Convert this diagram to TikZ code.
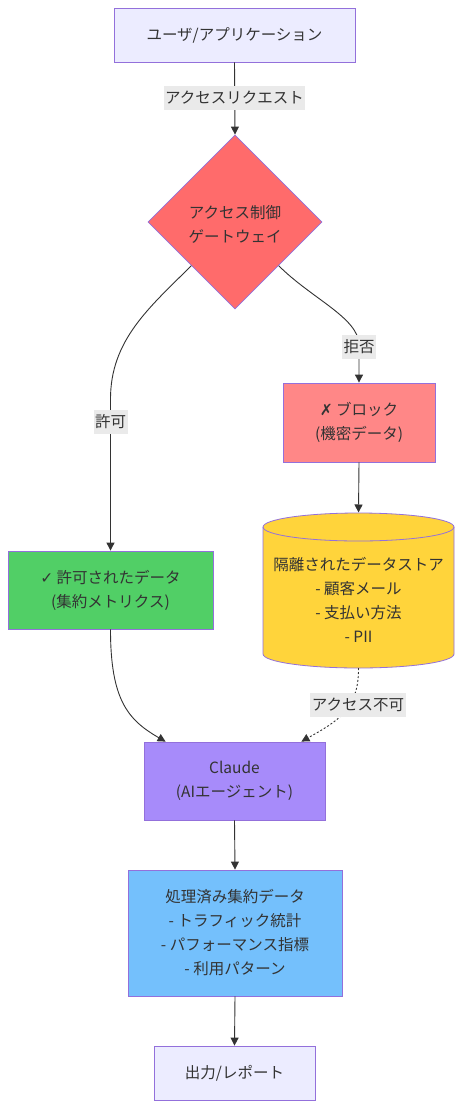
\documentclass[tikz,border=0pt]{standalone}
\usepackage{fontspec}
\setmainfont{Noto Sans CJK JP}
\newfontfamily\symfont{DejaVu Sans}
\usetikzlibrary{shapes.geometric,arrows.meta}
\definecolor{txt}{HTML}{333333}
\definecolor{bord}{HTML}{9370DB}
\definecolor{lav}{HTML}{ECECFF}
\definecolor{gatec}{HTML}{FF6B6B}
\definecolor{blockc}{HTML}{FF8787}
\definecolor{storec}{HTML}{FFD43B}
\definecolor{okc}{HTML}{51CF66}
\definecolor{claudec}{HTML}{A78BFA}
\definecolor{procc}{HTML}{74C0FC}
\definecolor{lblbg}{HTML}{EAEAEA}
\tikzset{
  every node/.style={text=txt, font=\fontsize{15.5}{24}\selectfont},
  box/.style={draw=bord, line width=0.8pt, rectangle, align=center, inner sep=0pt},
  lbl/.style={fill=lblbg, inner sep=1.5pt, minimum height=24pt},
  arr/.style={draw=txt, line width=0.9pt, -{Triangle[length=8pt,width=8pt]}},
}
\begin{document}
\begin{tikzpicture}[x=1pt,y=-1pt]
\fill[white] (0,0) rectangle (462,1108);
\useasboundingbox (0,0) rectangle (462,1108);

\node[box, fill=lav, minimum width=241pt, minimum height=54pt] (user) at (234.5,35) {ユーザ/アプリケーション};
\node[diamond, draw=bord, line width=0.8pt, fill=gatec, minimum size=174pt, inner sep=0pt, aspect=1, align=center] (gate) at (235,222) {};
\node[align=center] (gatetxt) at (235,224) {アクセス制御\\ゲートウェイ};
\node[box, fill=blockc, minimum width=152pt, minimum height=79pt] (block) at (359,422.5) {{\symfont ✗} ブロック\\(機密データ)};
\node[box, fill=okc, minimum width=205pt, minimum height=78pt] (allowed) at (110.5,590) {{\symfont ✓} 許可されたデータ\\(集約メトリクス)};

% cylinder
\coordinate (storetop) at (358.5,512.5);
\coordinate (storebot) at (358.5,668);
\filldraw[draw=bord, line width=0.8pt, fill=storec] (263,527) -- (263,654) arc[start angle=180, end angle=360, x radius=95.5pt, y radius=14pt] -- (454,527) arc[start angle=0, end angle=180, x radius=95.5pt, y radius=14pt] -- cycle;
\draw[draw=bord, line width=0.8pt] (263,527) arc[start angle=180, end angle=360, x radius=95.5pt, y radius=14pt];
\node[align=center] (store) at (358.5,600) {隔離されたデータストア\\- 顧客メール\\- 支払い方法\\- PII};

\node[box, fill=claudec, minimum width=181pt, minimum height=78pt] (claude) at (234.5,781) {Claude\\(AIエージェント)};
\node[box, fill=procc, minimum width=214pt, minimum height=126pt] (proc) at (235,933) {処理済み集約データ\\- トラフィック統計\\- パフォーマンス指標\\- 利用パターン};
\node[box, fill=lav, minimum width=161pt, minimum height=54pt] (out) at (234.5,1073) {出力/レポート};

% connectors
\draw[arr] (user.south) -- (gate.north);
\draw[arr] (gate.south west) .. controls (150,307) and (110,340) .. (110.5,400) -- (allowed.north);
\draw[arr] (gate.south east) .. controls (312,299) and (359,318) .. (359,345) -- (block.north);
\draw[arr] (block.south) -- (storetop);
\draw[arr] (allowed.south) .. controls (110.5,700) and (128,720) .. ([xshift=22pt]claude.north west);
\draw[arr, dash pattern=on 2pt off 2pt] (storebot) .. controls (359,710) and (336,722) .. ([xshift=-24pt]claude.north east);
\draw[arr] (claude.south) -- (proc.north);
\draw[arr] (proc.south) -- (out.north);

% labels
\node[lbl] (l1) at (234.5,98) {アクセスリクエスト};
\node[lbl] (l2) at (110.5,422) {許可};
\node[lbl] (l3) at (359,347) {拒否};
\node[lbl] (l4) at (358,705) {アクセス不可};
\end{tikzpicture}
\end{document}
